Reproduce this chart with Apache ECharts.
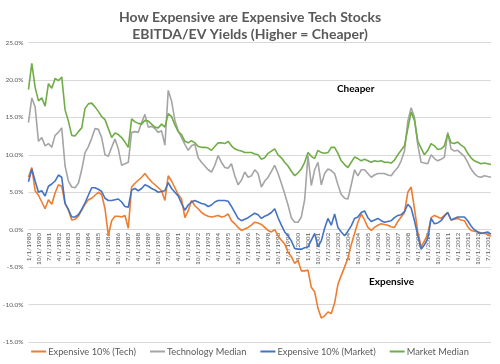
<!DOCTYPE html>
<html><head><meta charset="utf-8">
<script src="https://cdn.jsdelivr.net/npm/echarts@6/dist/echarts.min.js"></script>
<style>html,body{margin:0;padding:0;background:#fff}#c{width:500px;height:364px}</style>
</head><body><div id="c"></div>
<script>
// Quarterly observations, Q1 1980 .. Q4 2014 (values in %)
const years = [1980,1981,1982,1983,1984,1985,1986,1987,1988,1989,1990,1991,1992,1993,1994,1995,1996,1997,1998,1999,2000,2001,2002,2003,2004,2005,2006,2007,2008,2009,2010,2011,2012,2013,2014];
const quarterMonths = [1,4,7,10];
const categories = [];
years.forEach(y => quarterMonths.forEach(m => categories.push(m + '/1/' + y)));

const expensiveTech = [
 7.0, 8.3, 5.2, 4.6,   3.7, 2.8, 4.0, 3.4,   4.9, 6.0, 5.8, 3.5,   2.6, 1.3, 1.4, 1.8,
 2.6, 3.4, 4.0, 4.2,   4.6, 5.0, 4.7, 2.8,  -0.8, 1.2, 1.8, 1.8,   1.7, 1.9, 0.2, 5.7,
 6.2, 6.6, 7.0, 7.5,   6.9, 6.4, 6.0, 5.6,   5.2, 3.9, 7.2, 6.5,   5.6, 4.7, 4.1, 1.6,
 2.5, 3.9, 3.2, 2.8,   2.3, 2.0, 1.8, 1.7,   1.8, 1.9, 1.7, 1.8,   2.1, 1.2, 0.8, 0.3,
-0.1, 0.1, 0.3, 0.6,   1.0, 0.9, 0.7, 0.3,  -0.1,-0.3, 0.0,-0.8,  -1.4,-1.9,-3.0,-3.6,
-4.5,-4.1,-5.5,-5.5,  -5.4,-7.7,-8.3,-10.5, -11.8,-11.5,-11.0,-11.2, -9.8,-7.3,-6.1,-5.0,
-3.8,-2.0,-0.5, 1.0,   2.1, 1.3, 0.3,-0.1,   0.3, 0.6, 0.8, 0.7,   0.6, 0.4, 0.3, 1.1,
 1.7, 2.3, 5.0, 5.7,   2.8,-0.3,-2.3,-1.5,  -0.6, 1.6, 1.9, 1.7,   1.5, 1.9, 2.3, 1.3,
 1.4, 1.5, 1.3, 1.2,   0.4,-0.1,-0.2,-0.3,  -0.4,-0.5,-0.6,-0.9
];
const techMedian = [
14.3,17.6,16.4,11.8,  12.3,11.2,11.5,11.0,  12.6,13.0,13.6, 8.5,   6.5, 5.7, 5.6, 6.2,
 8.0,10.3,11.1,12.2,  13.5,13.4,12.3,10.0,   9.8,11.0,12.1,10.8,   8.6, 8.8, 9.0,13.0,
13.1,13.0,14.3,15.4,  13.7,13.8,13.5,13.0,  13.2,11.3,18.6,17.2,  14.6,13.2,12.3,11.4,
10.6,11.2,11.4, 9.6,   9.0, 8.5, 8.0, 7.7,   8.6, 9.9, 9.0, 8.3,   8.2, 8.8, 7.2, 6.0,
 6.6, 7.7, 7.0, 7.2,   8.0, 7.5, 5.7, 6.5,   7.0, 7.8, 8.6, 7.5,   6.2, 4.8, 3.3, 1.6,
 1.0, 1.0, 1.7, 4.0,   9.9, 5.9, 8.0, 9.0,   6.0, 7.5, 8.1, 7.9,   7.5, 6.0, 4.7, 4.2,
 4.1, 6.0, 8.0, 7.2,   8.0, 8.0, 7.5, 7.0,   7.3, 7.5, 7.5, 7.5,   7.3, 7.2, 7.8, 8.3,
 9.2,10.5,14.5,16.3,  15.0,11.3, 9.0, 8.9,   8.8,10.0, 9.5, 9.2,   9.4, 9.7,13.0,10.8,
10.5,10.6,10.2, 9.8,   9.0, 8.1, 7.5, 7.1,   7.0, 7.2, 7.1, 7.0
];
const expensiveMarket = [
 6.4, 8.1, 6.5, 5.0,   5.2, 4.5, 5.8, 6.1,   6.5, 7.3, 7.0, 3.5,   2.7, 1.7, 1.7, 2.0,
 2.7, 3.6, 4.6, 5.6,   5.6, 5.4, 5.1, 4.2,   3.9, 3.9, 4.0, 4.1,   3.7, 3.1, 3.0, 5.3,
 5.5, 5.2, 5.5, 6.0,   5.8, 5.5, 5.3, 5.0,   5.1, 5.2, 6.3, 5.5,   5.0, 4.5, 3.5, 2.6,
 3.3, 3.7, 3.9, 3.7,   3.5, 3.4, 3.1, 3.3,   3.7, 3.9, 3.9, 3.9,   3.8, 3.1, 2.3, 1.5,
 1.2, 1.4, 1.6, 1.9,   2.2, 2.0, 1.5, 1.8,   2.0, 2.3, 2.8, 1.6,   0.6,-0.3,-0.8,-1.5,
-2.5,-2.6,-2.6,-2.4,  -2.3,-1.4,-0.5,-2.3,  -1.5, 0.2, 1.5, 0.6,   2.1, 0.3,-0.3,-0.8,
-0.2, 0.5, 1.5, 1.7,   2.3, 2.5, 1.6, 1.1,   1.3, 1.5, 1.2, 1.0,   1.1, 1.2, 1.6, 1.9,
 2.0, 2.4, 3.4, 2.9,   1.2,-0.8,-2.6,-2.0,  -1.2, 1.5, 0.8, 0.9,   1.2, 1.8, 2.3, 1.3,
 1.5, 1.7, 1.7, 1.7,   1.2, 0.5, 0.0,-0.3,  -0.5,-0.4,-0.3,-0.6
];
const marketMedian = [
18.7,22.2,19.0,17.2,  17.6,16.5,19.5,18.9,  20.2,19.9,20.4,16.0,  14.5,12.6,12.5,13.1,
13.6,16.2,16.8,16.9,  16.4,15.8,15.1,14.7,  13.5,12.3,12.9,12.7,  12.3,11.7,11.0,14.8,
14.4,14.2,14.1,14.6,  14.5,14.1,13.7,13.6,  14.1,13.7,15.5,15.1,  14.0,13.1,12.7,11.8,
11.6,11.9,11.6,11.1,  11.0,11.0,10.9,10.6,  11.1,11.6,11.6,11.5,  11.8,11.2,10.8,10.6,
10.5,10.3,10.3,10.3,  10.1,10.0, 9.4, 9.6,  10.2,10.5,10.8,10.0,   9.6, 9.0, 8.5, 7.8,
 7.2, 7.6, 8.1, 9.0,  10.3, 9.8, 9.5,10.6,  10.3,10.2,10.3,11.0,  11.0,10.2, 9.2, 8.7,
 8.3, 9.0, 9.7, 9.5,   9.2, 9.4, 9.2, 9.0,   9.2, 9.1, 9.2, 9.0,   9.0, 8.9, 9.3,10.0,
10.6,11.2,13.5,15.7,  14.6,11.8,10.9,10.0,  10.6,11.5,11.2,10.7,  10.8,11.2,12.8,11.6,
11.5,11.7,11.3,11.0,  10.2, 9.6, 9.2, 9.0,   8.8, 8.9, 8.8, 8.7
];
const seriesNames = ['Expensive 10% (Tech)','Technology Median','Expensive 10% (Market)','Market Median'];
const seriesColors = ['#ED7D31','#A5A5A5','#4472C4','#70AD47'];
const seriesData = [expensiveTech, techMedian, expensiveMarket, marketMedian];

const FONT = 'Lato, "Open Sans", sans-serif';
const GRID_TOP = 42.5, GRID_BOTTOM = 22, H = 364;
const Y_MIN = -15, Y_MAX = 25;
const plotH = H - GRID_TOP - GRID_BOTTOM;
const zeroOffset = -plotH * (0 - Y_MIN) / (Y_MAX - Y_MIN);

const chart = echarts.init(document.getElementById('c'), null, {renderer:'canvas'});
chart.setOption({
  animation:false,
  textStyle:{fontFamily:FONT},
  title:{
    text:'How Expensive are Expensive Tech Stocks\nEBITDA/EV Yields (Higher = Cheaper)',
    left:'center', top:4,
    textStyle:{fontFamily:FONT, fontSize:14, fontWeight:'bold', color:'#595959', lineHeight:17}
  },
  grid:{left:26, right:9, top:GRID_TOP, bottom:GRID_BOTTOM, containLabel:false},
  legend:{
    bottom:3, left:'center', itemGap:14, itemWidth:15, itemHeight:2, icon:'rect',
    textStyle:{fontFamily:FONT, fontSize:9.3, color:'#595959', padding:[0,0,0,-3]},
    data:seriesNames
  },
  xAxis:{
    type:'category', data:categories, boundaryGap:false, position:'bottom', offset:zeroOffset,
    axisLine:{onZero:false, lineStyle:{color:'#D9D9D9'}},
    axisTick:{show:false},
    axisLabel:{interval:2, rotate:90, fontSize:6.5, color:'#595959', margin:3, fontFamily:FONT},
    splitLine:{show:false}
  },
  yAxis:{
    type:'value', min:Y_MIN, max:Y_MAX, interval:5,
    axisLine:{show:false}, axisTick:{show:false},
    axisLabel:{fontSize:6.5, color:'#595959', margin:5, fontFamily:FONT, formatter:v=>v.toFixed(1)+'%'},
    splitLine:{lineStyle:{color:'#D9D9D9', width:1}}
  },
  graphic:[
    {type:'text', left:337, top:84, style:{text:'Cheaper', fontFamily:FONT, fontSize:10, fontWeight:'bold', fill:'#000'}},
    {type:'text', left:369, top:277, style:{text:'Expensive', fontFamily:FONT, fontSize:10, fontWeight:'bold', fill:'#000'}}
  ],
  series: seriesNames.map((n,i)=>({
    name:n, type:'line', data:seriesData[i], symbol:'none', showSymbol:false,
    lineStyle:{color:seriesColors[i], width:1.6}, itemStyle:{color:seriesColors[i]}
  }))
});
</script></body></html>
